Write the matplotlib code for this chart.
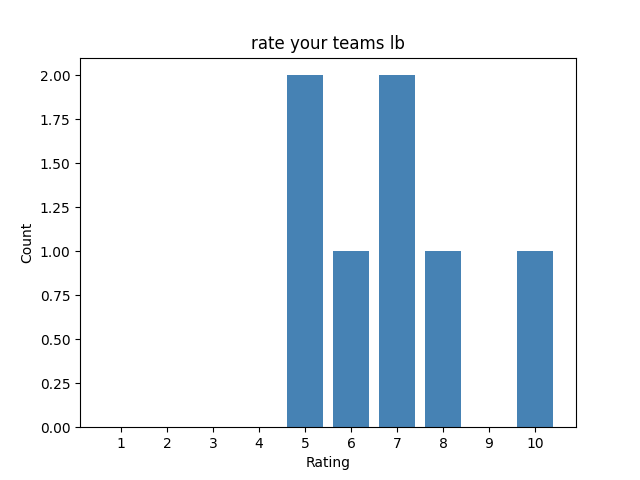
import matplotlib
matplotlib.use("Agg")
import matplotlib.pyplot as plt

# 评分和对应的数量
ratings = [1, 2, 3, 4, 5, 6, 7, 8, 9, 10]
counts = [0, 0, 0, 0, 2, 1, 2, 1, 0, 1]

fig, ax = plt.subplots(figsize=(6.4, 4.8), dpi=100)
ax.bar(ratings, counts, color="steelblue")
ax.set_xticks(ratings)
ax.set_title("rate your teams lb")
ax.set_xlabel("Rating")
ax.set_ylabel("Count")
ax.yaxis.set_major_formatter(matplotlib.ticker.FormatStrFormatter("%.2f"))

fig.savefig("out.png")
